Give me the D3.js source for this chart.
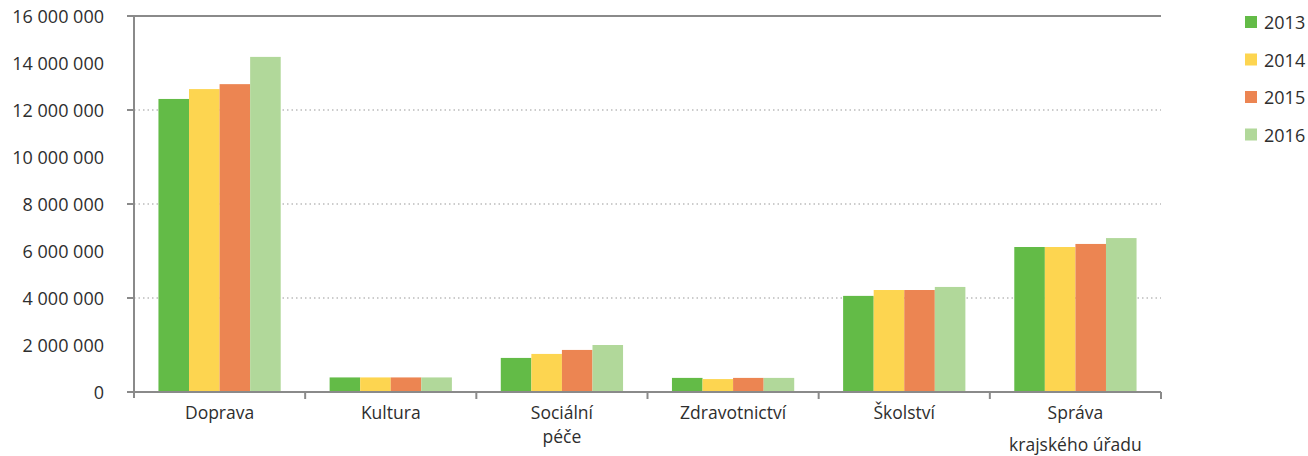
<!DOCTYPE html>
<html>
<head>
<meta charset="utf-8">
<script src="https://cdn.jsdelivr.net/npm/d3@7"></script>
<style>
  body { margin: 0; background: #fff; }
  text { font-family: "Open Sans", sans-serif; fill: #2e2e2e; }
</style>
</head>
<body>
<svg id="chart" width="1308" height="456"></svg>
<script>
// categories (second line of label after the '|')
const categories = ['Doprava', 'Kultura', 'Sociální|péče', 'Zdravotnictví', 'Školství', 'Správa|krajského úřadu'];
const years = ['2013', '2014', '2015', '2016'];

// values per year, same order as categories
const v2013 = [12470000, 620000, 1450000, 600000, 4090000, 6170000];
const v2014 = [12890000, 620000, 1620000, 550000, 4340000, 6170000];
const v2015 = [13100000, 620000, 1790000, 600000, 4340000, 6300000];
const v2016 = [14260000, 620000, 2000000, 600000, 4470000, 6550000];
const seriesValues = [v2013, v2014, v2015, v2016];

const yTicks = [0, 2000000, 4000000, 6000000, 8000000, 10000000, 12000000, 14000000, 16000000];
const gridTicks = [4000000, 8000000, 12000000];

const colors = ['#63bb47', '#fdd550', '#ec8552', '#b1d89a'];
const axisGrey = '#8a8a8a';

const plotLeft = 134, plotRight = 1161, plotTop = 16, plotBottom = 392;

const svg = d3.select('#chart');

const x = d3.scaleBand().domain(d3.range(categories.length)).range([plotLeft, plotRight]).paddingInner(0).paddingOuter(0);
const inner = d3.scaleBand().domain(d3.range(years.length)).range([0, x.bandwidth()]).paddingOuter(0.8).paddingInner(0);
const y = d3.scaleLinear().domain([0, 16000000]).range([plotBottom, plotTop]);

const fmt = n => d3.format(',')(n).replace(/,/g, ' ');

// dotted grid lines
svg.append('g').selectAll('line').data(gridTicks).join('line')
  .attr('x1', plotLeft).attr('x2', plotRight)
  .attr('y1', d => y(d)).attr('y2', d => y(d))
  .attr('stroke', '#9a9a9a').attr('stroke-width', 1.2)
  .attr('stroke-dasharray', '1.5,3');

// bars
const groups = svg.append('g').selectAll('g').data(categories).join('g')
  .attr('transform', (d, i) => `translate(${x(i)},0)`);

groups.selectAll('rect').data((d, i) => seriesValues.map((s, k) => ({ k, v: s[i] }))).join('rect')
  .attr('x', d => inner(d.k))
  .attr('width', inner.bandwidth())
  .attr('y', d => y(d.v))
  .attr('height', d => plotBottom - y(d.v))
  .attr('fill', d => colors[d.k]);

// axes frame
svg.append('line').attr('x1', 127).attr('x2', plotRight).attr('y1', plotTop).attr('y2', plotTop)
  .attr('stroke', axisGrey).attr('stroke-width', 2);
svg.append('line').attr('x1', 127).attr('x2', plotRight).attr('y1', plotBottom).attr('y2', plotBottom)
  .attr('stroke', axisGrey).attr('stroke-width', 2);
svg.append('line').attr('x1', plotLeft).attr('x2', plotLeft).attr('y1', plotTop).attr('y2', plotBottom + 6)
  .attr('stroke', axisGrey).attr('stroke-width', 2);

// y tick marks at major steps
svg.append('g').selectAll('line').data(gridTicks).join('line')
  .attr('x1', 127).attr('x2', plotLeft)
  .attr('y1', d => y(d)).attr('y2', d => y(d))
  .attr('stroke', axisGrey).attr('stroke-width', 2);

// category boundary ticks
svg.append('g').selectAll('line').data(d3.range(1, categories.length + 1)).join('line')
  .attr('x1', i => plotLeft + i * x.step()).attr('x2', i => plotLeft + i * x.step())
  .attr('y1', plotBottom).attr('y2', plotBottom + 7)
  .attr('stroke', axisGrey).attr('stroke-width', 2);

// y labels
svg.append('g').selectAll('text').data(yTicks).join('text')
  .attr('x', 104).attr('y', d => y(d) + 7)
  .attr('text-anchor', 'end')
  .style('font-size', '18px')
  .text(d => d === 0 ? '0' : fmt(d));

// category labels; second line sits a bit lower for the last one
const secondLineGap = { 2: 24, 5: 32 };
const catLabels = svg.append('g').selectAll('text').data(categories).join('text')
  .attr('text-anchor', 'middle')
  .style('font-size', '17.5px');
catLabels.each(function (d, i) {
  const parts = d.split('|');
  const t = d3.select(this);
  parts.forEach((p, j) => {
    t.append('tspan')
      .attr('x', x(i) + x.bandwidth() / 2)
      .attr('y', 419 + j * (secondLineGap[i] || 0))
      .text(p);
  });
});

// legend
const legend = svg.append('g').selectAll('g').data(years).join('g')
  .attr('transform', (d, i) => `translate(1245,${16 + i * 37.5})`);
legend.append('rect').attr('width', 12).attr('height', 12).attr('fill', (d, i) => colors[i]);
legend.append('text').attr('x', 19).attr('y', 13).style('font-size', '18px').text(d => d);
</script>
</body>
</html>
